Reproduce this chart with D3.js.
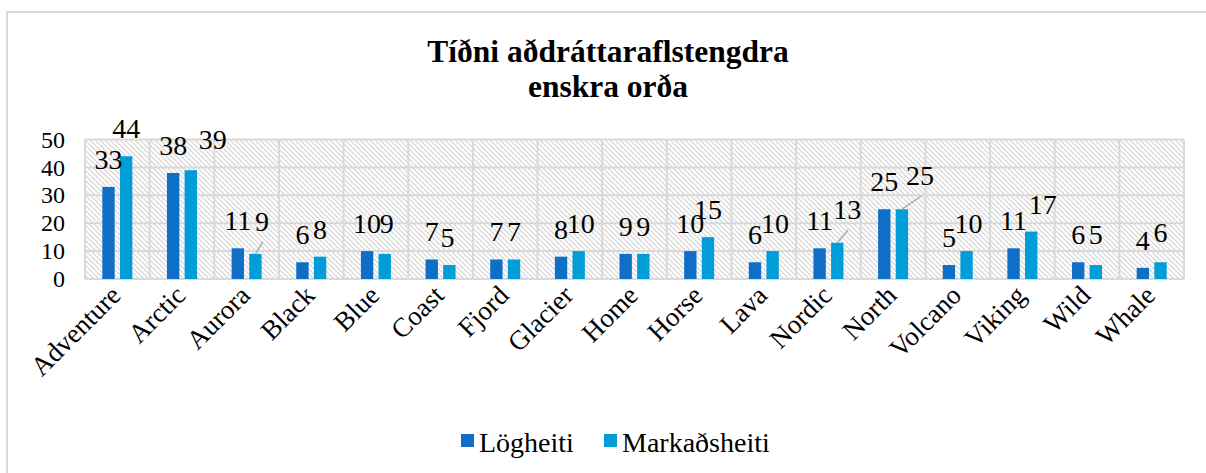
<!DOCTYPE html>
<html>
<head>
<meta charset="utf-8">
<script src="https://cdn.jsdelivr.net/npm/d3@7"></script>
<style>
  body { margin: 0; background: #fff; }
  text { font-family: "Liberation Serif", "Times New Roman", serif; }
</style>
</head>
<body>
<div id="chart"></div>
<script>
// chart data
var categories = ["Adventure", "Arctic", "Aurora", "Black", "Blue", "Coast", "Fjord", "Glacier",
  "Home", "Horse", "Lava", "Nordic", "North", "Volcano", "Viking", "Wild", "Whale"];
var logheiti     = [33, 38, 11, 6, 10, 7, 7, 8, 9, 10, 6, 11, 25, 5, 11, 6, 4];
var markadsheiti = [44, 39, 9, 8, 9, 5, 7, 10, 9, 15, 10, 13, 25, 10, 17, 5, 6];
var seriesNames  = ["Lögheiti", "Markaðsheiti"];
var seriesColors = ["#0F6FC6", "#009DD9"];
var yTicks       = [0, 10, 20, 30, 40, 50];
var titleLines   = ["Tíðni aðdráttaraflstengdra", "enskra orða"];

// nudges for data labels that Excel moved around (series-category -> dx, dy, leader line)
var labelNudges = {
  "1-1": [22, -3], "1-2": [6.5, -5, true], "1-4": [2, -3], "1-5": [-2, 0],
  "1-7": [2, 0], "1-10": [2.5, 0], "1-11": [10, -6, true], "1-12": [18, -6, true],
  "1-13": [2, 0], "1-14": [11.5, 0], "1-15": [0, -3], "1-16": [0, -2]
};

var W = 1206, H = 473;
var plot = { left: 85, right: 1184, top: 139.5, bottom: 279 };
var grid = "#d9d9d9";

var svg = d3.select("#chart").append("svg")
  .attr("width", W).attr("height", H);

var defs = svg.append("defs");
var pat = defs.append("pattern")
  .attr("id", "hatch")
  .attr("patternUnits", "userSpaceOnUse")
  .attr("width", 5).attr("height", 5);
pat.append("rect").attr("width", 5).attr("height", 5).attr("fill", "#fff");
pat.append("path")
  .attr("d", "M-1,-1 L6,6 M-1,4 L1,6 M4,-1 L6,1")
  .attr("stroke", "#d9d9d9").attr("stroke-width", 1.3);

// outer chart frame (runs off the picture to the right and bottom)
svg.append("rect")
  .attr("x", 7).attr("y", 12).attr("width", 1400).attr("height", 700)
  .attr("fill", "#fff").attr("stroke", grid).attr("stroke-width", 2);

// title
svg.append("g").selectAll("text")
  .data(titleLines)
  .enter().append("text")
  .attr("x", 608)
  .attr("y", function(d, i) { return 62 + 35 * i; })
  .attr("text-anchor", "middle")
  .attr("font-size", 31.5).attr("font-weight", "bold")
  .attr("fill", "#000")
  .text(function(d) { return d; });

var x = d3.scaleBand().domain(categories).range([plot.left, plot.right]);
var x1 = d3.scaleBand().domain([0, 1]).range([-15, 15]).paddingInner(0.3);
var y = d3.scaleLinear().domain([0, 50]).range([plot.bottom, plot.top]);

// plot area with hatch
svg.append("rect")
  .attr("x", plot.left).attr("y", plot.top)
  .attr("width", plot.right - plot.left).attr("height", plot.bottom - plot.top)
  .attr("fill", "url(#hatch)");

// gridlines
svg.append("g").selectAll("line")
  .data(yTicks)
  .enter().append("line")
  .attr("x1", plot.left).attr("x2", plot.right)
  .attr("y1", function(d) { return y(d); }).attr("y2", function(d) { return y(d); })
  .attr("stroke", grid).attr("stroke-width", 2);

var bounds = categories.map(function(c) { return x(c); }).concat([plot.right]);
svg.append("g").selectAll("line")
  .data(bounds)
  .enter().append("line")
  .attr("x1", function(d) { return d; }).attr("x2", function(d) { return d; })
  .attr("y1", plot.top).attr("y2", plot.bottom)
  .attr("stroke", grid).attr("stroke-width", 2);

// y axis labels
var yAxis = d3.axisLeft(y).tickValues(yTicks).tickSize(0).tickPadding(20);
var yg = svg.append("g").attr("transform", "translate(" + plot.left + ",0)").call(yAxis);
yg.select(".domain").remove();
yg.selectAll("text")
  .attr("font-size", 24).attr("fill", "#000")
  .attr("font-family", "Liberation Serif, Times New Roman, serif");

// bars
var series = [logheiti, markadsheiti];
series.forEach(function(vals, s) {
  svg.append("g").selectAll("rect")
    .data(vals)
    .enter().append("rect")
    .attr("x", function(d, i) { return x(categories[i]) + x.bandwidth() / 2 + x1(s); })
    .attr("y", function(d) { return y(d); })
    .attr("width", x1.bandwidth())
    .attr("height", function(d) { return y(0) - y(d); })
    .attr("fill", seriesColors[s]);
});

// data labels
series.forEach(function(vals, s) {
  var g = svg.append("g");
  vals.forEach(function(d, i) {
    var cx = x(categories[i]) + x.bandwidth() / 2 + x1(s) + x1.bandwidth() / 2;
    var n = labelNudges[s + "-" + i] || [0, 0];
    var lx = cx + n[0], ly = y(d) - 18 + n[1];
    if (n[2]) {
      g.append("line")
        .attr("x1", lx + 1).attr("y1", ly + 11)
        .attr("x2", cx).attr("y2", y(d))
        .attr("stroke", "#a6a6a6").attr("stroke-width", 1.3);
    }
    g.append("text")
      .attr("x", lx).attr("y", ly)
      .attr("text-anchor", "middle")
      .attr("font-size", 28).attr("fill", "#000")
      .text(d);
  });
});

// x labels, rotated
svg.append("g").selectAll("text")
  .data(categories)
  .enter().append("text")
  .attr("transform", function(d) {
    return "translate(" + (x(d) + x.bandwidth() / 2 + 5) + "," + (plot.bottom + 18) + ") rotate(-45)";
  })
  .attr("text-anchor", "end")
  .attr("font-size", 27).attr("fill", "#000")
  .text(function(d) { return d; });

// legend
var legendX = [461, 604];
var lg = svg.append("g").selectAll("g")
  .data(seriesNames)
  .enter().append("g")
  .attr("transform", function(d, i) { return "translate(" + legendX[i] + ",434)"; });
lg.append("rect").attr("width", 13).attr("height", 13)
  .attr("fill", function(d, i) { return seriesColors[i]; });
lg.append("text").attr("x", 18).attr("y", 18)
  .attr("font-size", 28).attr("fill", "#000")
  .text(function(d) { return d; });
</script>
</body>
</html>
